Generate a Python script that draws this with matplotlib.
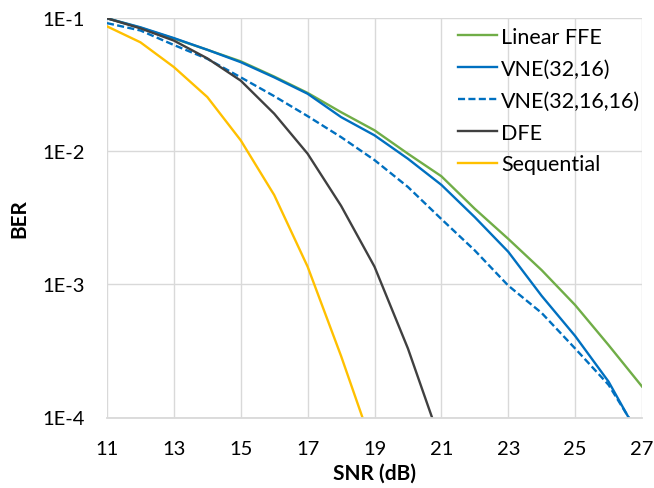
import numpy as np
import matplotlib.pyplot as plt
from matplotlib.ticker import FixedLocator, NullLocator

plt.rcParams['font.family'] = ['Lato', 'DejaVu Sans']

snr = [11, 12, 13, 14, 15, 16, 17, 18, 19, 20, 21, 22, 23, 24, 25, 26, 27]

linear_ffe = [0.100, 0.085, 0.0705, 0.058, 0.0475, 0.0365, 0.0275, 0.0197, 0.0144,
              0.0096, 0.0065, 0.0037, 0.0022, 0.00128, 0.00070, 0.00035, 0.000171]
vne_32_16 = [0.100, 0.0856, 0.071, 0.058, 0.0468, 0.036, 0.0271, 0.0181, 0.0132,
             0.0088, 0.0056, 0.0032, 0.00176, 0.00082, 0.00041, 0.000186, 0.000066]
vne_32_16_16 = [0.092, 0.081, 0.063, 0.0496, 0.036, 0.026, 0.0184, 0.0128, 0.0086,
                0.0054, 0.0031, 0.0018, 0.00098, 0.00061, 0.00033, 0.000176, 0.000069]

snr_dfe = [11, 12, 13, 14, 15, 16, 17, 18, 19, 20, 21]
dfe = [0.100, 0.084, 0.068, 0.050, 0.034, 0.0192, 0.0096, 0.0039, 0.00136, 0.00033, 0.000063]

snr_seq = [11, 12, 13, 14, 15, 16, 17, 18, 19]
sequential = [0.087, 0.066, 0.043, 0.0256, 0.0121, 0.0047, 0.00136, 0.00029, 0.000055]

ytick_vals = [1e-4, 1e-3, 1e-2, 1e-1]
ytick_labels = ["1E-4", "1E-3", "1E-2", "1E-1"]
xtick_vals = [11, 13, 15, 17, 19, 21, 23, 25, 27]

fig = plt.figure(figsize=(6.54, 4.89), dpi=100)
ax = fig.add_axes([107 / 654, 1 - 418.5 / 489, 535 / 654, 399.2 / 489])

lw = 1.7
ax.plot(snr, linear_ffe, color="#70AD47", lw=lw, label="Linear FFE")
ax.plot(snr, vne_32_16, color="#0070C0", lw=lw, label="VNE(32,16)")
ax.plot(snr, vne_32_16_16, color="#0070C0", lw=lw, dashes=(3.0, 1.4), label="VNE(32,16,16)")
ax.plot(snr_dfe, dfe, color="#404040", lw=lw, label="DFE")
ax.plot(snr_seq, sequential, color="#FFC000", lw=lw, label="Sequential")

ax.set_yscale("log")
ax.set_ylim(1e-4, 1e-1)
ax.set_xlim(11, 27)
ax.yaxis.set_major_locator(FixedLocator(ytick_vals))
ax.yaxis.set_minor_locator(NullLocator())
ax.set_yticks(ytick_vals, ytick_labels)
ax.set_xticks(xtick_vals)

ax.grid(True, color="#D9D9D9", lw=1.0)
ax.set_axisbelow(True)
for side in ["top", "right", "left"]:
    ax.spines[side].set_visible(False)
ax.spines["bottom"].set_color("#D9D9D9")
ax.spines["bottom"].set_linewidth(1.3)

ax.tick_params(axis="both", length=0, labelsize=14.5, colors="#000000")
ax.tick_params(axis="y", pad=16)
ax.tick_params(axis="x", pad=16)

ax.set_xlabel("SNR (dB)", fontsize=15, fontweight="bold", labelpad=4)
ax.set_ylabel("BER", fontsize=15, fontweight="bold", labelpad=9)

ax.legend(loc="upper left", bbox_to_anchor=(458 / 654, 1 - 28 / 489),
          bbox_transform=fig.transFigure, frameon=False, fontsize=15.5,
          handlelength=1.8, handletextpad=0.2, labelspacing=0.55,
          borderpad=0, borderaxespad=0)

fig.savefig("out.png", dpi=100)
